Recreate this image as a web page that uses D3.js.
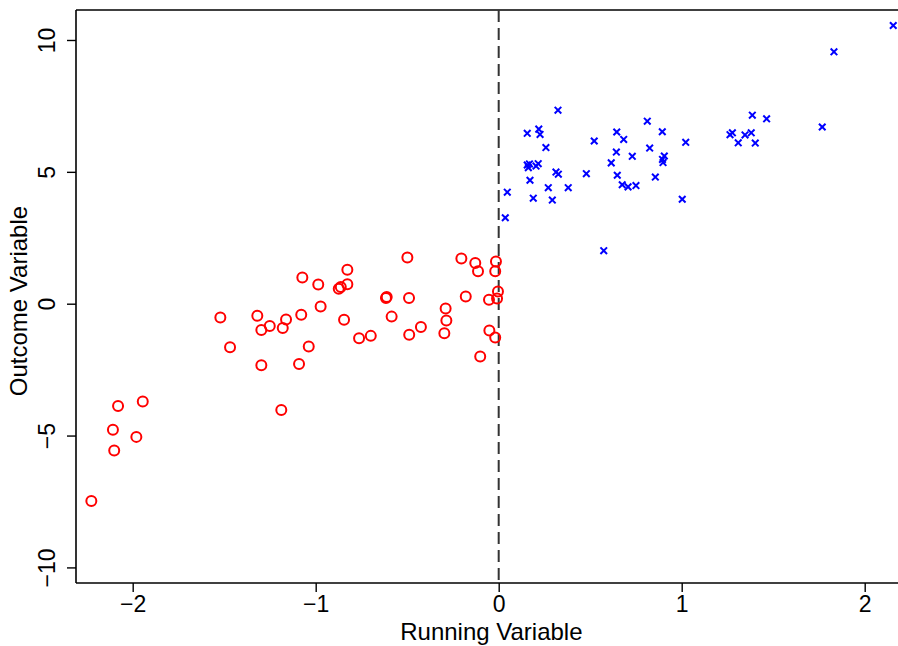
<!DOCTYPE html>
<html>
<head>
<meta charset="utf-8">
<script src="https://d3js.org/d3.v7.min.js"></script>
<style>
  body { margin: 0; background: #fff; }
  text { font-family: "Liberation Sans", Arial, Helvetica, sans-serif; fill: #000; }
</style>
</head>
<body>
<div id="rdd_plot"></div>
<script>
// control group (running variable < 0)
var leftX = [-2.226, -2.108, -2.101, -2.080, -1.980, -1.945, -1.521, -1.468, -1.319, -1.297,
             -1.251, -1.297, -1.188, -1.180, -1.162, -1.073, -1.079, -1.038, -1.091, -0.986,
             -0.973, -0.827, -0.874, -0.863, -0.827, -0.845, -0.763, -0.699, -0.612, -0.616,
             -0.499, -0.490, -0.585, -0.489, -0.425, -0.290, -0.286, -0.297, -0.204, -0.128,
             -0.113, -0.180, -0.015, -0.019, -0.004, -0.053, -0.009, -0.051, -0.019, -0.101];
var leftY = [-7.48, -4.78, -5.57, -3.88, -5.05, -3.71, -0.52, -1.65, -0.46, -1.00,
             -0.85, -2.33, -4.03, -0.92, -0.60, 0.99, -0.42, -1.62, -2.29, 0.73,
             -0.11, 1.29, 0.57, 0.63, 0.74, -0.61, -1.31, -1.22, 0.25, 0.22,
             1.75, 0.22, -0.49, -1.18, -0.88, -0.18, -0.64, -1.12, 1.71, 1.54,
             1.23, 0.27, 1.60, 1.23, 0.46, 0.15, 0.20, -1.02, -1.28, -2.00];

// treated group (running variable >= 0)
var rightX = [0.324, 0.156, 0.219, 0.226, 0.258, 0.522, 0.645, 0.683, 0.812, 0.894,
              1.022, 0.643, 0.730, 0.825, 0.615, 0.905, 0.895, 0.898, 0.156, 0.168,
              0.162, 0.204, 0.216, 0.313, 0.326, 0.479, 0.648, 0.856, 0.171, 0.675,
              0.707, 0.750, 0.271, 0.380, 0.047, 0.189, 0.293, 1.003, 0.036, 0.574,
              2.156, 1.832, 1.386, 1.464, 1.768, 1.264, 1.277, 1.346, 1.380, 1.309, 1.402];
var rightY = [7.34, 6.46, 6.62, 6.42, 5.92, 6.17, 6.51, 6.23, 6.92, 6.52,
              6.12, 5.75, 5.59, 5.90, 5.34, 5.60, 5.47, 5.35, 5.26, 5.30,
              5.16, 5.22, 5.31, 4.99, 4.91, 4.93, 4.87, 4.80, 4.68, 4.51,
              4.43, 4.48, 4.40, 4.40, 4.23, 4.00, 3.93, 3.96, 3.26, 2.01,
              10.55, 9.55, 7.15, 7.01, 6.70, 6.41, 6.48, 6.40, 6.48, 6.10, 6.09];

var xTicks = [-2, -1, 0, 1, 2];
var yTicks = [-10, -5, 0, 5, 10];
var cutoff = 0;

var W = 898, H = 646;
var margin = {top: 10, right: -2, bottom: 63, left: 76};
var width = W - margin.left - margin.right;
var height = H - margin.top - margin.bottom;

var svg = d3.select("#rdd_plot")
  .append("svg")
  .attr("width", W)
  .attr("height", H)
  .append("g")
  .attr("transform", "translate(" + margin.left + "," + margin.top + ")");

var x = d3.scaleLinear()
  .domain([-2.3098, 2.1929])
  .range([0, width]);

var y = d3.scaleLinear()
  .domain([-10.591, 11.137])
  .range([height, 0]);

function fmt(d) { return d < 0 ? "\u2212" + Math.abs(d) : String(d); }

// X axis
var gx = svg.append("g")
  .attr("transform", "translate(0," + height + ")")
  .call(d3.axisBottom(x).tickValues(xTicks).tickSize(9).tickPadding(4).tickFormat(fmt));
gx.select(".domain").attr("stroke-width", 1.6).attr("d", "M0,0H" + width);
gx.selectAll(".tick line").attr("stroke-width", 1.4);
gx.selectAll(".tick text").style("font-size", "23px").attr("fill", "#000");

// Y axis
var gy = svg.append("g")
  .call(d3.axisLeft(y).tickValues(yTicks).tickSize(9).tickFormat(fmt));
gy.select(".domain").attr("stroke-width", 1.6).attr("d", "M0,0V" + height);
gy.selectAll(".tick line").attr("stroke-width", 1.4);
gy.selectAll(".tick text")
  .style("font-size", "23px")
  .attr("fill", "#000")
  .attr("text-anchor", "middle")
  .attr("x", null).attr("dy", null)
  .attr("transform", "translate(-21,0)rotate(-90)");

// top border of the box
svg.append("line")
  .attr("x1", 0).attr("x2", width)
  .attr("y1", 0).attr("y2", 0)
  .attr("stroke", "#000").attr("stroke-width", 1.6);

// cutoff line
svg.append("line")
  .attr("x1", x(cutoff)).attr("x2", x(cutoff))
  .attr("y1", 0).attr("y2", height)
  .attr("stroke", "#333").attr("stroke-width", 2)
  .attr("stroke-dasharray", "12,6");

// control points
svg.append("g")
  .selectAll("circle")
  .data(d3.range(leftX.length))
  .enter()
  .append("circle")
  .attr("cx", function(i) { return x(leftX[i]); })
  .attr("cy", function(i) { return y(leftY[i]); })
  .attr("r", 5)
  .attr("fill", "none")
  .attr("stroke", "#ff0000")
  .attr("stroke-width", 2);

// treated points
var s = 3.3;
svg.append("g")
  .selectAll("path")
  .data(d3.range(rightX.length))
  .enter()
  .append("path")
  .attr("transform", function(i) { return "translate(" + x(rightX[i]) + "," + y(rightY[i]) + ")"; })
  .attr("d", "M" + (-s) + "," + (-s) + "L" + s + "," + s + "M" + (-s) + "," + s + "L" + s + "," + (-s))
  .attr("stroke", "#0000ff")
  .attr("stroke-width", 2);

// X label
svg.append("text")
  .attr("x", x(-0.04))
  .attr("y", height + 57)
  .attr("text-anchor", "middle")
  .style("font-size", "24px")
  .text("Running Variable");

// Y label
svg.append("text")
  .attr("text-anchor", "middle")
  .attr("transform", "translate(-49," + y(0.1) + ")rotate(-90)")
  .style("font-size", "24px")
  .text("Outcome Variable");
</script>
</body>
</html>
